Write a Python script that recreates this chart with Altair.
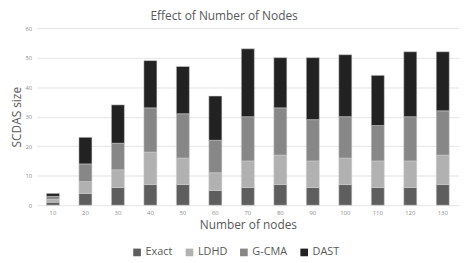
import altair as alt
import pandas as pd

nodes = ["10", "20", "30", "40", "50", "60", "70", "80", "90", "100", "110", "120", "130"]
series = ["Exact", "LDHD", "G-CMA", "DAST"]
exact = [1, 4, 6, 7, 7, 5, 6, 7, 6, 7, 6, 6, 7]
ldhd = [1, 4, 6, 11, 9, 6, 9, 10, 9, 9, 9, 9, 10]
gcma = [1, 6, 9, 15, 15, 11, 15, 16, 14, 14, 12, 15, 15]
dast = [1, 9, 13, 16, 16, 15, 23, 17, 21, 21, 17, 22, 20]
colors = ["#5e5e5e", "#b1b1b1", "#878787", "#222222"]

rows = []
for name, vals in zip(series, [exact, ldhd, gcma, dast]):
    for i, (n, v) in enumerate(zip(nodes, vals)):
        rows.append({"nodes": n, "series": name, "value": v, "order": series.index(name)})
df = pd.DataFrame(rows)

chart = alt.Chart(df).mark_bar(stroke="#d0d0d0", strokeWidth=0.5).encode(
    x=alt.X("nodes:N", sort=nodes, title="Number of nodes",
            scale=alt.Scale(paddingInner=0.6, paddingOuter=0.3),
            axis=alt.Axis(labelAngle=0, labelFontSize=6, labelColor="#8c8c8c", ticks=False,
                          domain=False, labelPadding=4, titleFontSize=12, titleColor="#595959",
                          titleFontWeight="normal", titlePadding=5, titleFont="Open Sans",
                          labelFont="Open Sans")),
    y=alt.Y("value:Q", stack="zero", title="SCDAS size",
            scale=alt.Scale(domain=[0, 60]),
            axis=alt.Axis(values=[0, 10, 20, 30, 40, 50, 60], labelFontSize=6, labelColor="#8c8c8c",
                          ticks=False, domain=False, labelPadding=5, gridColor="#e4e4e4",
                          titleFontSize=12, titleColor="#595959", titleFontWeight="normal",
                          titlePadding=2, titleFont="Open Sans", labelFont="Open Sans")),
    color=alt.Color("series:N", sort=series, scale=alt.Scale(domain=series, range=colors),
                    legend=alt.Legend(title=None, orient="none", direction="horizontal",
                                      legendX=96, legendY=221, symbolType="square", symbolSize=60,
                                      symbolStrokeWidth=0, labelFontSize=11, labelColor="#595959",
                                      labelFont="Open Sans", columnPadding=11, symbolOffset=0,
                                      labelOffset=3)),
    order=alt.Order("order:Q"),
).properties(
    width=427,
    height=179,
    padding={"left": 2, "top": 1, "right": 0, "bottom": 0},
    title=alt.Title("Effect of Number of Nodes", fontSize=12, color="#595959", font="Open Sans",
                    fontWeight="normal", anchor="middle", dx=-24, offset=2),
).configure_view(stroke=None)

chart.save("out.html", embed_options={"renderer": "svg", "actions": False})
